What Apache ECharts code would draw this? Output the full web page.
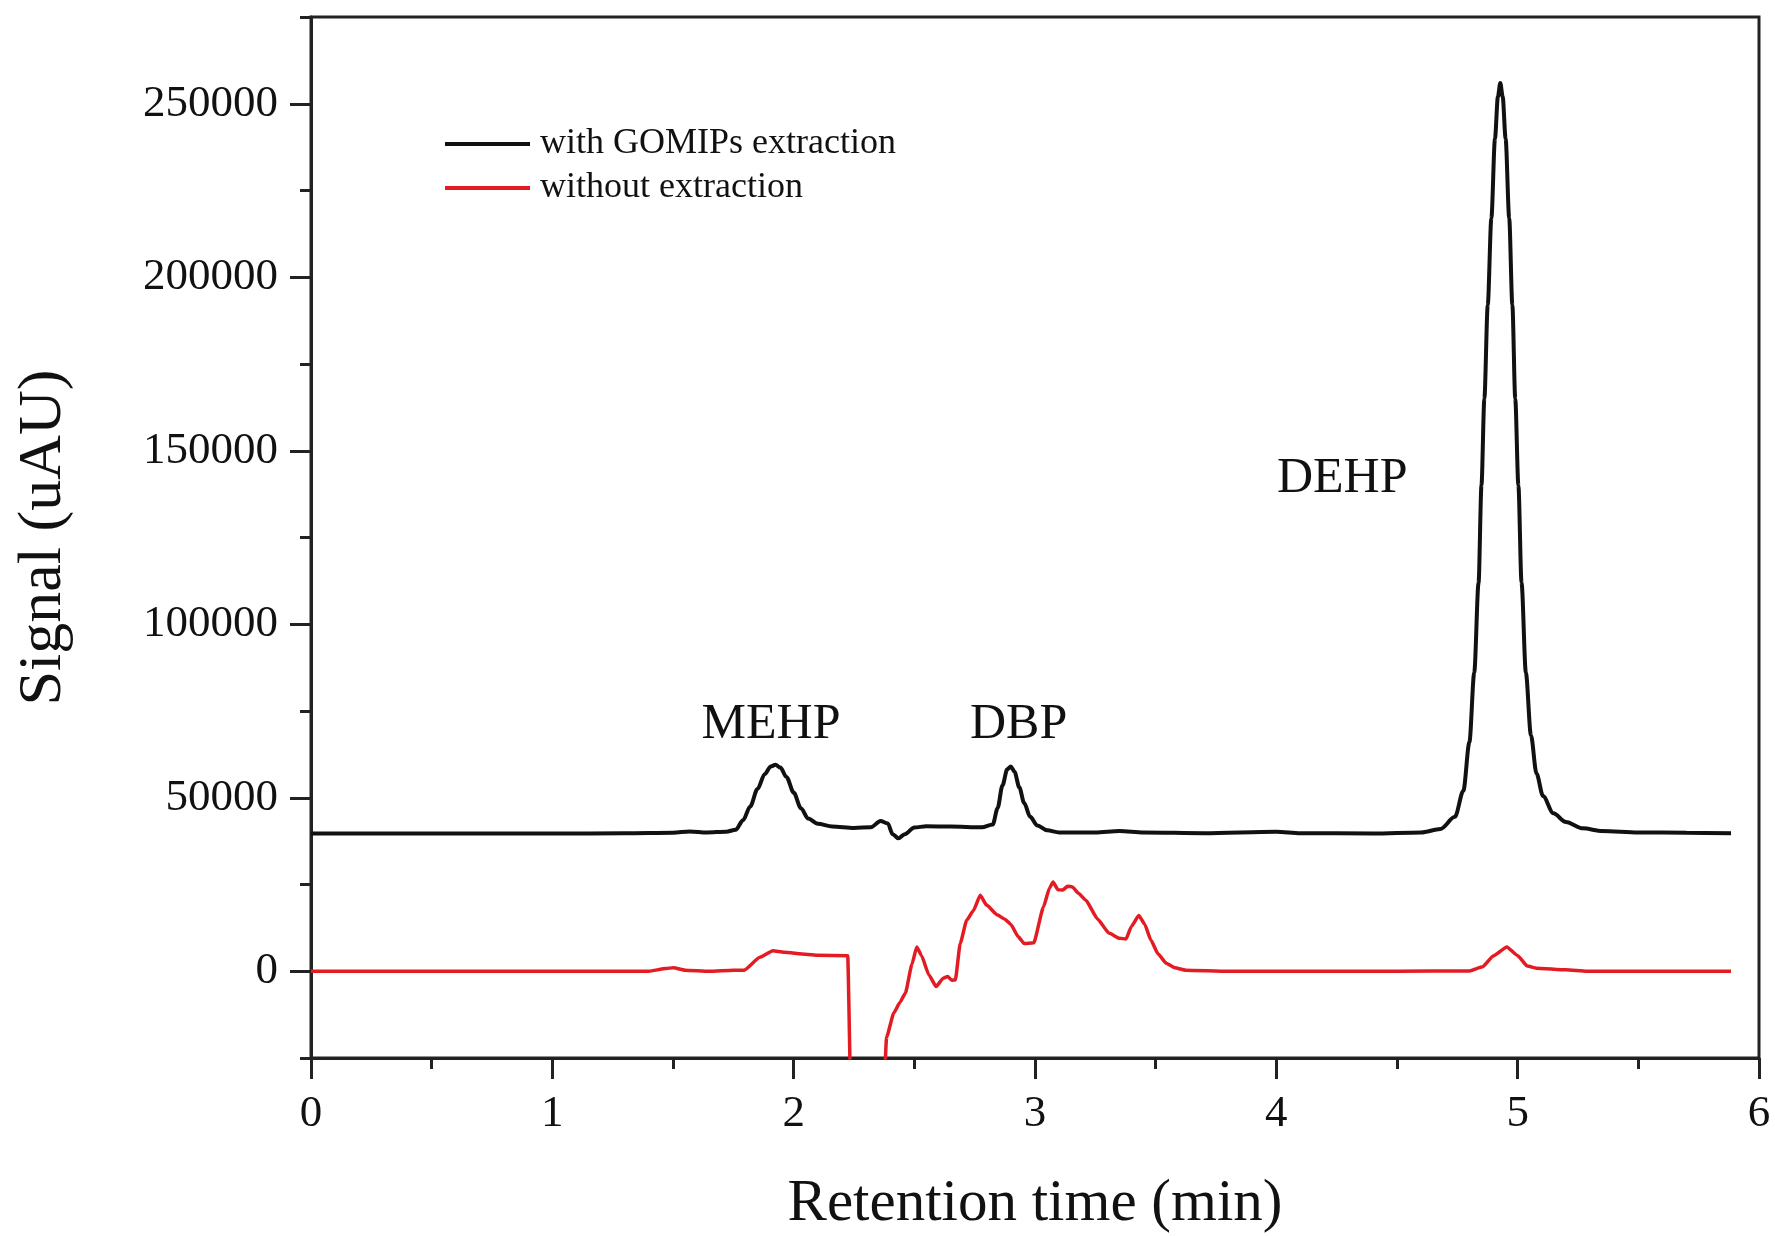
<!DOCTYPE html>
<html>
<head>
<meta charset="utf-8">
<script src="https://cdn.jsdelivr.net/npm/echarts@6/dist/echarts.min.js"></script>
<style>
html,body{margin:0;padding:0;background:#fff;}
#c{width:1775px;height:1236px;}
</style>
</head>
<body>
<div id="c"></div>
<script>
// ---- data ----
const seriesNames = ['with GOMIPs extraction', 'without extraction'];

const withTime = [0,0.5,1.0,1.3,1.5,1.57,1.64,1.72,1.76,1.79,1.82,1.85,1.88,1.905,1.925,1.945,1.97,2.0,2.03,2.06,2.1,2.16,2.25,2.32,2.36,2.39,2.41,2.434,2.46,2.5,2.55,2.65,2.78,2.825,2.845,2.865,2.885,2.9,2.915,2.935,2.955,2.98,3.01,3.05,3.1,3.25,3.35,3.45,3.7,4.0,4.1,4.4,4.6,4.68,4.74,4.775,4.80,4.82,4.838,4.85,4.862,4.876,4.891,4.906,4.918,4.928,4.938,4.95,4.965,4.978,4.99,5.003,5.016,5.034,5.055,5.078,5.105,5.148,5.20,5.27,5.35,5.5,5.7,5.884];
const withSignal = [39700,39700,39700,39750,39900,40300,40000,40200,40800,43500,47500,52500,56800,59000,59500,58700,56000,51500,47000,44000,42500,41700,41300,41500,43300,42600,39500,38300,39500,41400,41800,41700,41500,42300,47000,53500,58200,59000,57500,53000,48500,44500,42000,40600,40000,40000,40400,40000,39800,40200,39800,39700,40000,41000,44500,52000,66000,86000,112000,140000,165000,192000,217000,240000,252000,256000,252000,240000,217000,192000,165000,140000,112000,86000,68000,57000,50500,45500,43000,41200,40400,40000,39900,39800];

const withoutTime = [0,1.0,1.4,1.47,1.503,1.55,1.65,1.75,1.795,1.86,1.914,1.96,2.05,2.1,2.224,2.238,2.37,2.385,2.415,2.44,2.463,2.49,2.51,2.53,2.56,2.59,2.62,2.638,2.655,2.67,2.69,2.717,2.745,2.773,2.80,2.845,2.875,2.90,2.93,2.955,2.995,3.035,3.06,3.075,3.095,3.115,3.135,3.155,3.18,3.21,3.26,3.306,3.35,3.377,3.40,3.43,3.455,3.48,3.51,3.544,3.58,3.624,3.8,4.5,4.8,4.855,4.9,4.955,5.0,5.04,5.078,5.2,5.286,5.884];
const withoutSignal = [0,0,0,800,1000,300,0,300,300,4000,5900,5500,4900,4600,4500,-40000,-40000,-19000,-12000,-9000,-6300,2000,7000,4500,-1000,-4400,-2000,-1500,-2600,-2500,8000,14700,17500,21900,19000,16200,15000,13500,10000,8000,8200,18500,24000,25700,23500,23400,24500,24300,22500,20500,15000,11000,9500,9300,13000,16100,13500,9000,5000,2300,1000,300,0,0,100,1300,4500,7000,4500,1500,900,400,0,0];

const peakNames = ['MEHP', 'DBP', 'DEHP'];
const peakTimes = [1.906, 2.932, 4.273];
const peakSignals = [71000, 71000, 141900];

const xTicks = [0,1,2,3,4,5,6];
const yMajorTicks = [0,50000,100000,150000,200000,250000];
const yMinorTicks = [-25000,25000,75000,125000,175000,225000,275000];

// ---- chart ----
const FONT = "'Liberation Serif','Times New Roman',serif";
const pair = (xs, ys) => xs.map((x, i) => [x, ys[i]]);

const chart = echarts.init(document.getElementById('c'), null, {renderer: 'canvas'});
chart.setOption({
  animation: false,
  backgroundColor: '#fff',
  grid: {left: 311, right: 16, top: 17, bottom: 178, containLabel: false, outerBoundsMode: 'none',
         show: true, borderColor: '#222', borderWidth: 3, backgroundColor: 'transparent'},
  legend: {
    data: seriesNames,
    orient: 'vertical',
    left: 440, top: 119,
    icon: 'rect', itemWidth: 85, itemHeight: 4, itemGap: 4,
    textStyle: {fontFamily: FONT, fontSize: 36, color: '#111', lineHeight: 40, padding: [0,0,0,5]}
  },
  xAxis: {
    type: 'value', min: xTicks[0], max: xTicks[xTicks.length-1], interval: 1,
    name: 'Retention time (min)', nameLocation: 'middle', nameGap: 117,
    nameTextStyle: {fontFamily: FONT, fontSize: 59, color: '#111'},
    axisLine: {show: true, onZero: false, lineStyle: {color: '#222', width: 3}},
    axisTick: {show: true, inside: false, length: 21, lineStyle: {color: '#222', width: 3}},
    minorTick: {show: true, splitNumber: 2, length: 11, lineStyle: {color: '#222', width: 3}},
    axisLabel: {fontFamily: FONT, fontSize: 45, color: '#111', margin: 34},
    splitLine: {show: false}
  },
  yAxis: [{
    type: 'value', min: -25000, max: 275000,
    name: 'Signal (uAU)', nameLocation: 'middle', nameGap: 236,
    nameTextStyle: {fontFamily: FONT, fontSize: 62, color: '#111'},
    axisLine: {show: true, onZero: false, lineStyle: {color: '#222', width: 3}},
    axisTick: {show: true, inside: false, length: 21, customValues: yMajorTicks, lineStyle: {color: '#222', width: 3}},
    axisLabel: {fontFamily: FONT, fontSize: 45, color: '#111', margin: 33, customValues: yMajorTicks, formatter: v => String(v)},
    splitLine: {show: false}
  }, {
    type: 'value', min: -25000, max: 275000, position: 'left', offset: 0,
    axisLine: {show: false},
    axisTick: {show: true, inside: false, length: 11, customValues: yMinorTicks, lineStyle: {color: '#222', width: 3}},
    axisLabel: {show: false},
    splitLine: {show: false}
  }],
  series: [{
    name: seriesNames[1], type: 'line', data: pair(withoutTime, withoutSignal),
    showSymbol: false, symbol: 'none', smooth: 0.15, smoothMonotone: 'x', clip: true,
    color: '#e31b23', lineStyle: {color: '#e31b23', width: 3.5}
  }, {
    name: seriesNames[0], type: 'line', data: pair(withTime, withSignal),
    showSymbol: false, symbol: 'none', smooth: 0.3, smoothMonotone: 'x', clip: true,
    color: '#111', lineStyle: {color: '#111', width: 4}
  }, {
    name: 'peaks', type: 'scatter', data: peakTimes.map((t, i) => ({value: [t, peakSignals[i]], name: peakNames[i]})),
    symbolSize: 1, itemStyle: {color: '#fff'}, silent: true,
    label: {show: true, position: 'inside', formatter: p => p.name, fontFamily: FONT, fontSize: 50, color: '#111', textBorderWidth: 0, opacity: 1}
  }]
});
</script>
</body>
</html>
